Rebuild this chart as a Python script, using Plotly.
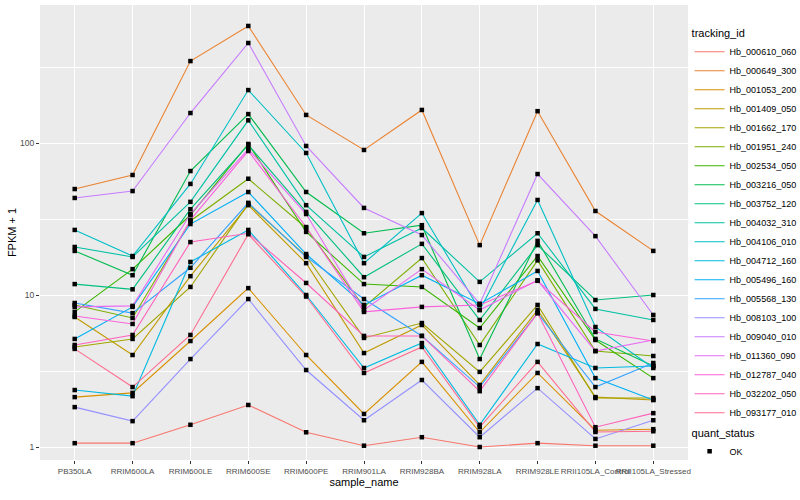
import plotly.graph_objects as go

samples = ["PB350LA", "RRIM600LA", "RRIM600LE", "RRIM600SE", "RRIM600PE", "RRIM901LA",
           "RRIM928BA", "RRIM928LA", "RRIM928LE", "RRII105LA_Control", "RRII105LA_Stressed"]

tracking_ids = ["Hb_000610_060", "Hb_000649_300", "Hb_001053_200", "Hb_001409_050", "Hb_001662_170",
                "Hb_001951_240", "Hb_002534_050", "Hb_003216_050", "Hb_003752_120", "Hb_004032_310",
                "Hb_004106_010", "Hb_004712_160", "Hb_005496_160", "Hb_005568_130", "Hb_008103_100",
                "Hb_009040_010", "Hb_011360_090", "Hb_012787_040", "Hb_032202_050", "Hb_093177_010"]

colors = ["#F8766D", "#EA8331", "#D89000", "#C09B00", "#A3A500", "#7CAE00", "#39B600", "#00BB4E",
          "#00BF7D", "#00C1A3", "#00BFC4", "#00BAE0", "#00B0F6", "#35A2FF", "#9590FF", "#C77CFF",
          "#E76BF3", "#FA62DB", "#FF62BC", "#FF6C91"]

# FPKM + 1 per tracking_id, in sample order
fpkm_000610_060 = [1.06, 1.06, 1.40, 1.89, 1.25, 1.02, 1.16, 1.00, 1.06, 1.02, 1.02]
fpkm_000649_300 = [49.8, 61.6, 346, 589, 153, 90.0, 165, 21.3, 162, 35.7, 19.5]
fpkm_001053_200 = [2.13, 2.27, 4.98, 11.1, 4.03, 1.65, 3.63, 1.25, 3.07, 1.29, 1.31]
fpkm_001409_050 = [7.17, 4.03, 13.3, 39.0, 16.2, 4.15, 6.35, 2.56, 7.97, 2.13, 2.04]
fpkm_001662_170 = [4.55, 5.14, 11.3, 39.8, 18.05, 5.22, 6.54, 3.12, 8.6, 2.10, 2.10]
fpkm_001951_240 = [8.6, 7.06, 30.7, 58.2, 27.6, 8.35, 17.5, 4.69, 16.9, 4.28, 3.97]
fpkm_002534_050 = [7.74, 14.8, 33.6, 98.6, 26.0, 11.8, 11.3, 6.06, 18.05, 5.06, 2.84]
fpkm_003216_050 = [19.5, 13.5, 65.4, 155, 47.6, 25.5, 28.8, 3.79, 22.7, 5.14, 3.41]
fpkm_003752_120 = [11.8, 10.9, 36.7, 97.1, 35.2, 13.1, 21.7, 6.85, 21.3, 9.27, 10.0]
fpkm_004032_310 = [20.7, 17.8, 41.0, 141, 39.0, 17.8, 27.6, 12.2, 25.5, 8.1, 6.85]
fpkm_004106_010 = [26.8, 18.05, 53.8, 223, 86.0, 16.2, 34.6, 7.97, 42.2, 6.16, 3.31]
fpkm_004712_160 = [2.37, 2.16, 16.5, 26.8, 10.0, 3.31, 4.83, 1.40, 4.76, 3.31, 3.41]
fpkm_005496_160 = [5.14, 8.35, 29.3, 47.6, 18.6, 8.6, 13.5, 8.73, 14.4, 2.84, 2.04]
fpkm_005568_130 = [8.86, 7.6, 15.1, 40.4, 17.8, 9.41, 5.38, 2.48, 7.6, 2.48, 3.57]
fpkm_008103_100 = [1.83, 1.48, 3.79, 9.41, 3.21, 1.50, 2.76, 1.16, 2.44, 1.13, 1.50]
fpkm_009040_010 = [43.5, 48.3, 157.5, 455, 95.6, 37.4, 24.8, 8.73, 62.5, 24.4, 7.39]
fpkm_011360_090 = [8.35, 8.48, 34.1, 91.3, 34.1, 7.97, 14.8, 7.97, 12.5, 4.28, 5.06]
fpkm_012787_040 = [7.28, 6.45, 31.2, 88.6, 28.0, 7.74, 8.35, 8.6, 12.4, 5.71, 4.98]
fpkm_032202_050 = [4.69, 5.46, 22.3, 25.5, 12.0, 5.38, 5.38, 2.33, 7.6, 1.35, 1.67]
fpkm_093177_010 = [4.42, 2.48, 5.46, 25.1, 9.77, 3.07, 4.55, 1.35, 3.63, 1.255, 1.27]

series = [fpkm_000610_060, fpkm_000649_300, fpkm_001053_200, fpkm_001409_050, fpkm_001662_170,
          fpkm_001951_240, fpkm_002534_050, fpkm_003216_050, fpkm_003752_120, fpkm_004032_310,
          fpkm_004106_010, fpkm_004712_160, fpkm_005496_160, fpkm_005568_130, fpkm_008103_100,
          fpkm_009040_010, fpkm_011360_090, fpkm_012787_040, fpkm_032202_050, fpkm_093177_010]

quant_status = ["OK"]

FONT = "Liberation Sans"
fig = go.Figure()

for name, col, vals in zip(tracking_ids, colors, series):
    fig.add_trace(go.Scatter(x=samples, y=vals, mode="lines", name=name,
                             line=dict(color=col, width=1.1), legend="legend"))

all_x, all_y = [], []
for vals in series:
    all_x += samples
    all_y += vals
fig.add_trace(go.Scatter(x=all_x, y=all_y, mode="markers", name=quant_status[0],
                         marker=dict(symbol="square", size=4.5, color="black"),
                         legend="legend2"))

fig.update_layout(
    width=800, height=500,
    paper_bgcolor="white", plot_bgcolor="#EBEBEB",
    margin=dict(l=40, r=112, t=5, b=40, autoexpand=False),
    font=dict(family=FONT, color="black"),
    showlegend=True,
    legend=dict(title=dict(text="tracking_id", font=dict(size=11)),
                font=dict(size=9), bgcolor="rgba(0,0,0,0)", itemwidth=30,
                xref="container", yref="container", x=0.862, y=0.954,
                xanchor="left", yanchor="top", tracegroupgap=0, maxheight=460),
    legend2=dict(title=dict(text="quant_status", font=dict(size=11)),
                 font=dict(size=9), bgcolor="rgba(0,0,0,0)", itemwidth=30,
                 xref="container", yref="container", x=0.862, y=0.155,
                 xanchor="left", yanchor="top"),
    xaxis=dict(type="category", range=[-0.6, 10.6], showgrid=True, gridcolor="white",
               gridwidth=1.1, zeroline=False, ticks="outside", ticklen=3, tickcolor="#333333",
               tickangle=0,
               tickfont=dict(size=8, color="#4D4D4D", family=FONT),
               title=dict(text="sample_name", font=dict(size=11), standoff=3),
               showline=False),
    yaxis=dict(type="log", range=[-0.0855, 2.908], tickvals=[1, 10, 100],
               ticktext=["1", "10", "100"], showgrid=True, gridcolor="white", gridwidth=1.1,
               zeroline=False, ticks="outside", ticklen=3, tickcolor="#333333",
               tickfont=dict(size=8.5, color="#4D4D4D", family=FONT),
               title=dict(text="FPKM + 1", font=dict(size=11), standoff=1),
               minor=dict(tickvals=[3.1623, 31.623, 316.23], showgrid=True,
                          gridcolor="white", gridwidth=0.5, ticks="")),
)

fig.write_html("out.html", config={"displayModeBar": False},
               post_script="document.body.style.margin='0px';")
